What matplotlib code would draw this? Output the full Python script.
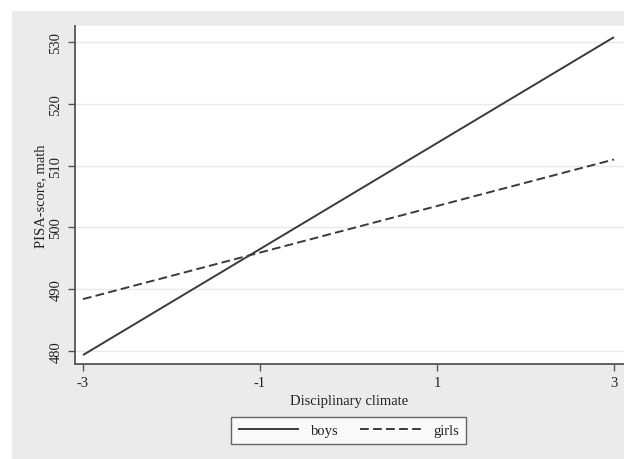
import matplotlib
matplotlib.use("Agg")
import matplotlib.pyplot as plt
from matplotlib.patches import Rectangle

x_vals = [-3, 3]
boys = [479.35, 530.8]
girls = [488.4, 511.0]
xticks = [-3, -1, 1, 3]
yticks = [480, 490, 500, 510, 520, 530]

plt.rcParams['font.family'] = ['Liberation Serif', 'DejaVu Serif']
plt.rcParams['font.size'] = 10.5

W, H = 624, 460
fig = plt.figure(figsize=(W/100, H/100), dpi=100)
fig.patch.set_facecolor('white')
fig.patches.append(Rectangle((12/W, 0), 1 - 12/W, 1 - 12/H, transform=fig.transFigure,
                             facecolor='#ebebeb', edgecolor='none', zorder=-10))

ax = fig.add_axes([75/W, 1 - 365/H, (W - 75)/W, (365 - 27)/H])
ax.set_zorder(1)
ax.set_facecolor('white')
line_col = '#3a3a3a'
ax.plot(x_vals, boys, color=line_col, lw=1.4, label='boys', solid_capstyle='butt')
ax.plot(x_vals, girls, color=line_col, lw=1.4, ls=(0, (4.5, 2.2)), label='girls')

ax.set_xlim(-3.09, 3.113)
ax.set_ylim(477.9, 532.6)
ax.set_xticks(xticks)
ax.set_xticklabels([str(t) for t in xticks])
ax.set_yticks(yticks)
ax.set_yticklabels([str(t) for t in yticks], rotation=90, va='center')
ax.yaxis.grid(True, color='#e9e9e9', lw=1)
ax.set_axisbelow(True)
for s in ['top', 'right']:
    ax.spines[s].set_visible(False)
for s in ['left', 'bottom']:
    ax.spines[s].set_color('#555555')
    ax.spines[s].set_linewidth(1.3)
ax.tick_params(direction='out', length=5, width=1, color='#555555', labelcolor='#222222', pad=4)
ax.set_xlabel('Disciplinary climate', color='#222222', labelpad=3)
ax.set_ylabel('PISA-score, math', color='#222222', labelpad=2)

leg = fig.legend(loc='center', bbox_to_anchor=(348.5/W, 1 - 431.5/H), ncol=2, frameon=True,
                 fancybox=False, edgecolor='#444444', handlelength=4.2, columnspacing=1.5,
                 handletextpad=0.8, borderpad=0.5)
leg.get_frame().set_linewidth(1.0)
for t in leg.get_texts():
    t.set_color('#222222')

fig.savefig('out.png', dpi=100, facecolor=fig.get_facecolor())
